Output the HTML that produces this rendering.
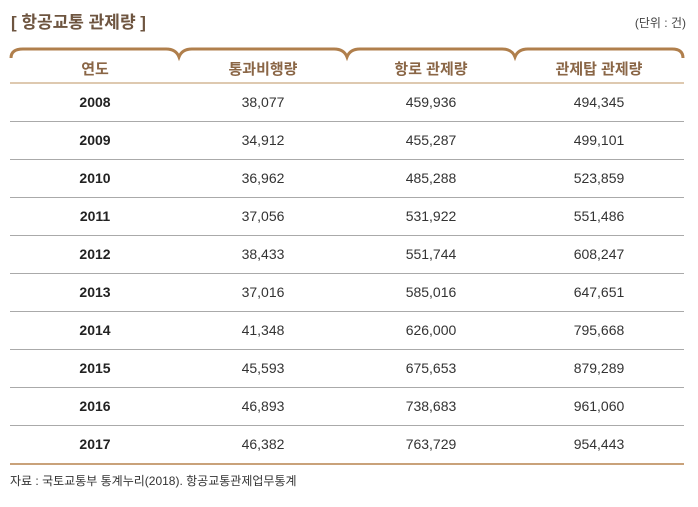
<!DOCTYPE html>
<html><head><meta charset="utf-8"><style>
body{margin:0;width:698px;height:507px;background:#fff;position:relative;font-family:"Liberation Sans","Noto Sans CJK KR",sans-serif;overflow:hidden}
.t{position:absolute;white-space:nowrap}
.title{left:11px;top:8px;font-size:17px;font-weight:bold;color:#6e5540}
.unit{right:12px;top:14px;font-size:12px;color:#444}
.h{position:absolute;top:58px;width:168px;text-align:center;font-size:15px;font-weight:bold;color:#8a6646}
.row{position:absolute;left:10px;width:674px;height:38px;border-bottom:1px solid #aaa}
.row div{position:absolute;top:0;width:168px;text-align:center;line-height:38px;font-size:14px;color:#333}
.row div:first-child{font-weight:bold;color:#222}
.foot{left:10px;top:472px;font-size:12px;color:#333}
</style></head><body>
<div class="t title">[ 항공교통 관제량 ]</div>
<div class="t unit">(단위 : 건)</div>
<svg width="698" height="90" style="position:absolute;left:0;top:0">
<g fill="none" stroke="#b07f4c" stroke-width="3">
<path d="M11,58 Q11,49 23,49 L166,49 Q176,49 179,57 Q182,49 192,49 L334,49 Q344,49 347,57 Q350,49 360,49 L502,49 Q512,49 515,57 Q518,49 528,49 L672,49 Q683,49 683,58"/>
</g>
<line x1="10" y1="83" x2="684" y2="83" stroke="#d3b795" stroke-width="1.5"/>
</svg>
<div class="h" style="left:11px">연도</div>
<div class="h" style="left:179px">통과비행량</div>
<div class="h" style="left:347px">항로 관제량</div>
<div class="h" style="left:515px">관제탑 관제량</div>
<div class="row" style="top:83px"><div style="left:1px">2008</div><div style="left:169px">38,077</div><div style="left:337px">459,936</div><div style="left:505px">494,345</div></div>
<div class="row" style="top:121px"><div style="left:1px">2009</div><div style="left:169px">34,912</div><div style="left:337px">455,287</div><div style="left:505px">499,101</div></div>
<div class="row" style="top:159px"><div style="left:1px">2010</div><div style="left:169px">36,962</div><div style="left:337px">485,288</div><div style="left:505px">523,859</div></div>
<div class="row" style="top:197px"><div style="left:1px">2011</div><div style="left:169px">37,056</div><div style="left:337px">531,922</div><div style="left:505px">551,486</div></div>
<div class="row" style="top:235px"><div style="left:1px">2012</div><div style="left:169px">38,433</div><div style="left:337px">551,744</div><div style="left:505px">608,247</div></div>
<div class="row" style="top:273px"><div style="left:1px">2013</div><div style="left:169px">37,016</div><div style="left:337px">585,016</div><div style="left:505px">647,651</div></div>
<div class="row" style="top:311px"><div style="left:1px">2014</div><div style="left:169px">41,348</div><div style="left:337px">626,000</div><div style="left:505px">795,668</div></div>
<div class="row" style="top:349px"><div style="left:1px">2015</div><div style="left:169px">45,593</div><div style="left:337px">675,653</div><div style="left:505px">879,289</div></div>
<div class="row" style="top:387px"><div style="left:1px">2016</div><div style="left:169px">46,893</div><div style="left:337px">738,683</div><div style="left:505px">961,060</div></div>
<div class="row" style="top:425px;border-bottom:2px solid #c9a27a"><div style="left:1px">2017</div><div style="left:169px">46,382</div><div style="left:337px">763,729</div><div style="left:505px">954,443</div></div>
<div class="t foot">자료 : 국토교통부 통계누리(2018). 항공교통관제업무통계</div>
</body></html>
